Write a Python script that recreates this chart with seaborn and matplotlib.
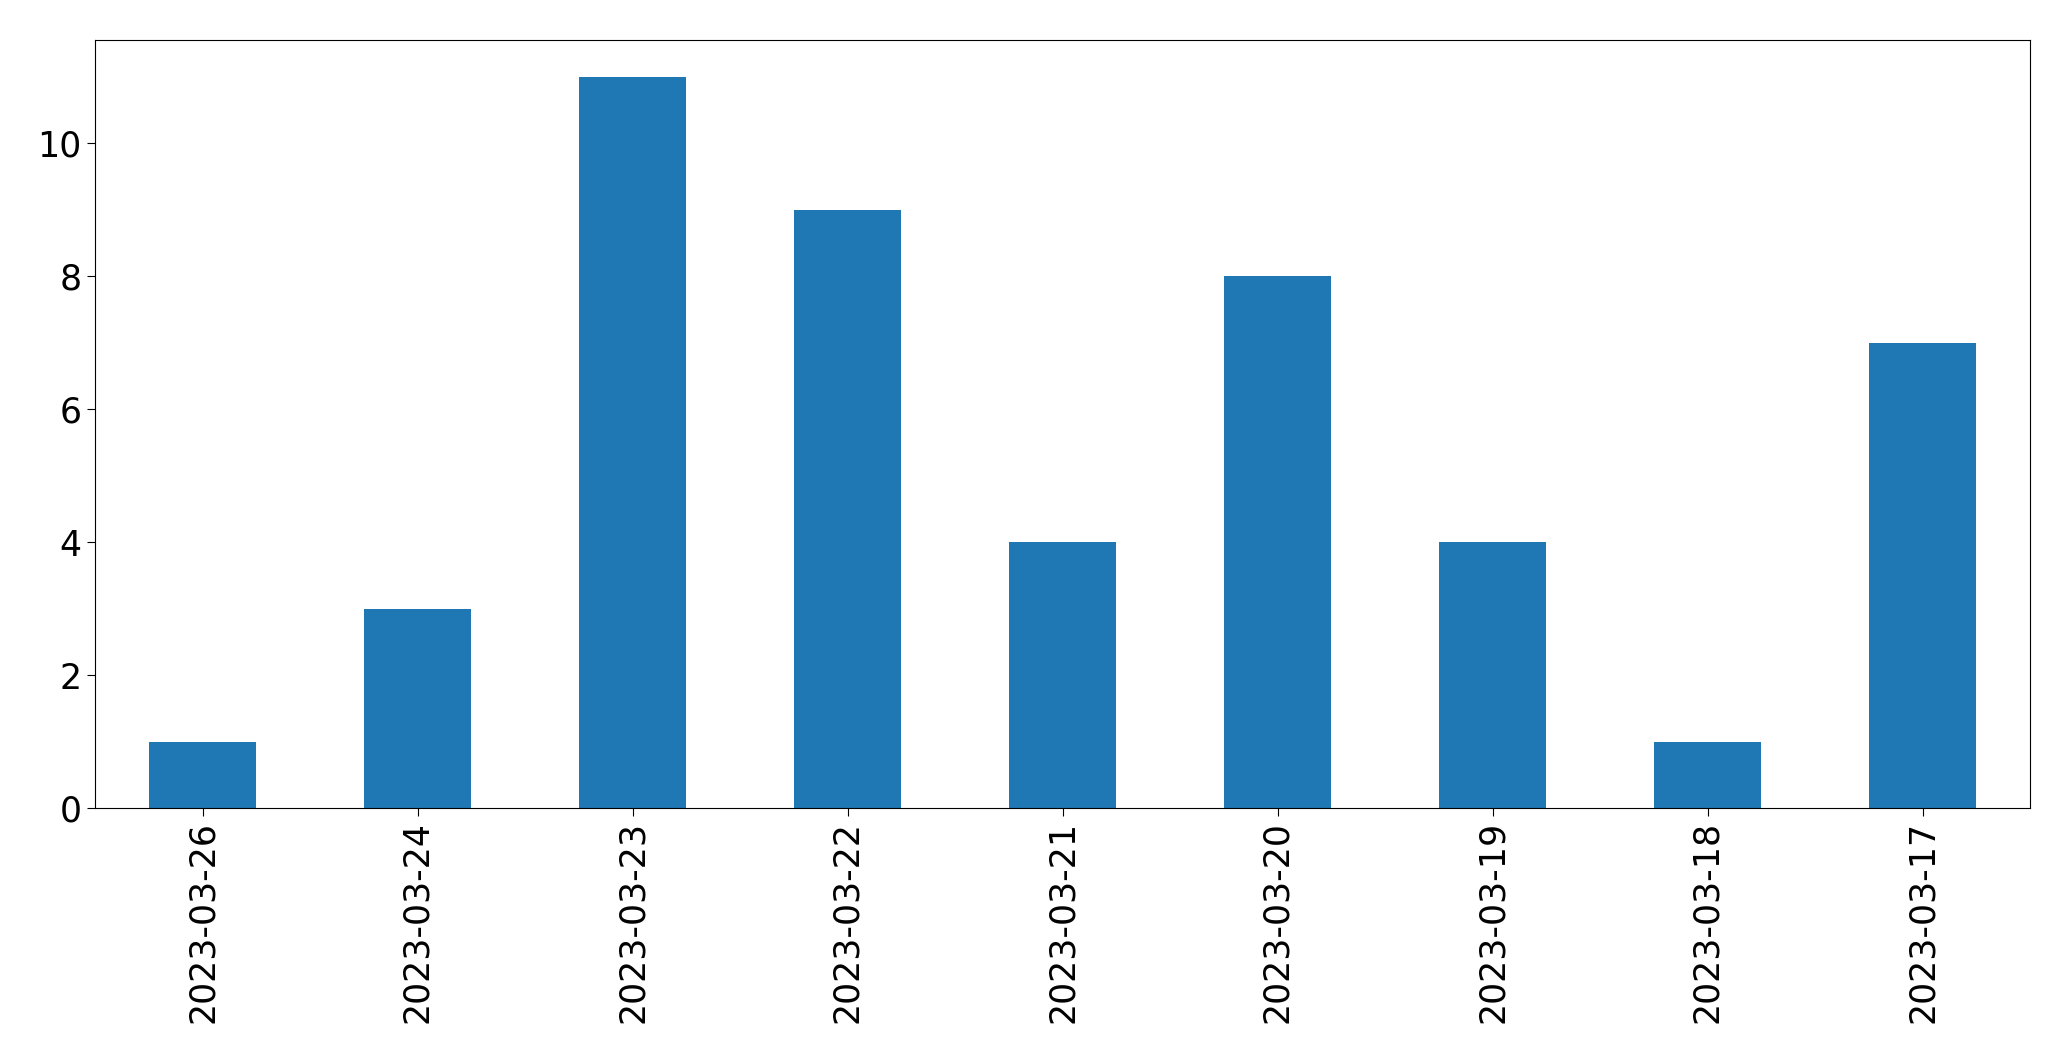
import pandas as pd
import matplotlib
matplotlib.use("Agg")
import matplotlib.pyplot as plt
import seaborn as sns

# data
dates = ["2023-03-26", "2023-03-24", "2023-03-23", "2023-03-22", "2023-03-21",
         "2023-03-20", "2023-03-19", "2023-03-18", "2023-03-17"]
counts = [1, 3, 11, 9, 4, 8, 4, 1, 7]

df = pd.DataFrame({"date": dates, "count": counts})

fig = plt.figure(figsize=(20.71, 10.61), dpi=100)
ax = fig.add_axes([95 / 2071, 1 - 808 / 1061, (2030 - 95) / 2071, (808 - 40) / 1061])

sns.barplot(data=df, x="date", y="count", order=dates, color="#1f77b4",
            saturation=1, width=0.5, linewidth=0, ax=ax)

ax.set_xlim(-0.5, len(dates) - 0.5)
ax.set_ylim(0, 11.55)
ax.set_xlabel("")
ax.set_ylabel("")
ax.tick_params(axis="both", labelsize=25, length=6)
ax.tick_params(axis="x", labelrotation=90)

fig.savefig("out.png", dpi=100)
